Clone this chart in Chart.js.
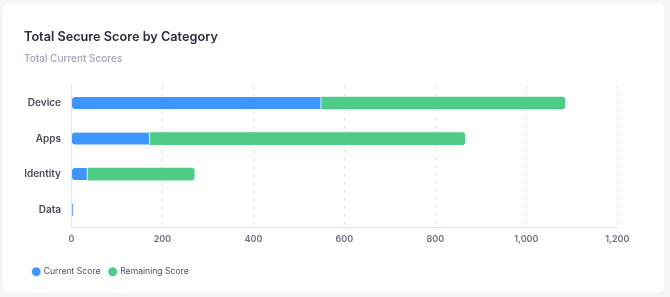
<!DOCTYPE html>
<html>
<head>
<meta charset="utf-8">
<script src="https://cdn.jsdelivr.net/npm/chart.js@4.4.1/dist/chart.umd.min.js"></script>
<style>
  html, body { margin: 0; padding: 0; background: #f5f5f6; }
  .card {
    position: absolute; left: 2px; top: 3px; width: 662px; height: 290px;
    background: #fff; border-radius: 6px;
    box-shadow: 0 0 2px rgba(0,0,0,0.06);
  }
  canvas { display: block; }
</style>
</head>
<body>
<div class="card"><canvas id="scoreChart" width="662" height="290"></canvas></div>
<script>
// Categories and series values
const categories = ['Device', 'Apps', 'Identity', 'Data'];
const currentScore = [549, 172, 35, 3];
const remainingScore = [536, 693, 235, 0];
const xTicks = [0, 200, 400, 600, 800, 1000, 1200];

Chart.defaults.font.family = 'Inter';

const ctx = document.getElementById('scoreChart').getContext('2d');
new Chart(ctx, {
  type: 'bar',
  data: {
    labels: categories,
    datasets: [
      {
        label: 'Current Score',
        data: currentScore,
        backgroundColor: '#3d95fd',
        borderColor: '#ffffff',
        borderWidth: { top: 0, right: 1, bottom: 0, left: 0 },
        borderSkipped: false,
        borderRadius: { topLeft: 3, bottomLeft: 3, topRight: 0, bottomRight: 0 },
        barThickness: 12
      },
      {
        label: 'Remaining Score',
        data: remainingScore,
        backgroundColor: '#4fcd88',
        borderWidth: 0,
        borderSkipped: false,
        borderRadius: { topLeft: 0, bottomLeft: 0, topRight: 3, bottomRight: 3 },
        barThickness: 12
      }
    ]
  },
  options: {
    indexAxis: 'y',
    responsive: false,
    animation: false,
    layout: { padding: { left: 22, right: 46.7, top: 0, bottom: 7 } },
    scales: {
      x: {
        stacked: true,
        min: 0,
        max: 1200,
        afterBuildTicks: axis => { axis.ticks = xTicks.map(v => ({ value: v })); },
        afterFit: axis => { axis.height = 31; },
        grid: { color: '#e4e4e8', drawTicks: false },
        border: { display: true, color: '#e4e4e8', dash: [4, 4] },
        ticks: {
          padding: 6.5,
          color: '#6b6f85',
          font: { size: 9, weight: '600' },
          callback: v => v.toLocaleString('en-US')
        }
      },
      y: {
        stacked: true,
        afterFit: axis => { axis.width = 47.5; },
        grid: { display: false, drawTicks: false },
        border: { display: true, color: '#e4e4e8' },
        ticks: {
          padding: 10.5,
          color: '#4a4a5c',
          font: { size: 10, weight: '600' }
        }
      }
    },
    plugins: {
      title: {
        display: true,
        text: 'Total Secure Score by Category',
        align: 'start',
        color: '#2b2b3c',
        font: { size: 12.7, weight: '600' },
        padding: { top: 26.2, bottom: 8.6 }
      },
      subtitle: {
        display: true,
        text: 'Total Current Scores',
        align: 'start',
        color: '#9fa3ba',
        font: { size: 10, weight: '500' },
        padding: { top: 0, bottom: 20.2 }
      },
      legend: {
        position: 'bottom',
        align: 'start',
        labels: {
          usePointStyle: true,
          pointStyle: 'circle',
          boxWidth: 6.4,
          boxHeight: 6.4,
          padding: 9,
          color: '#4b4f66',
          font: { size: 8.6 }
        }
      },
      tooltip: { enabled: true }
    }
  }
});
</script>
</body>
</html>
